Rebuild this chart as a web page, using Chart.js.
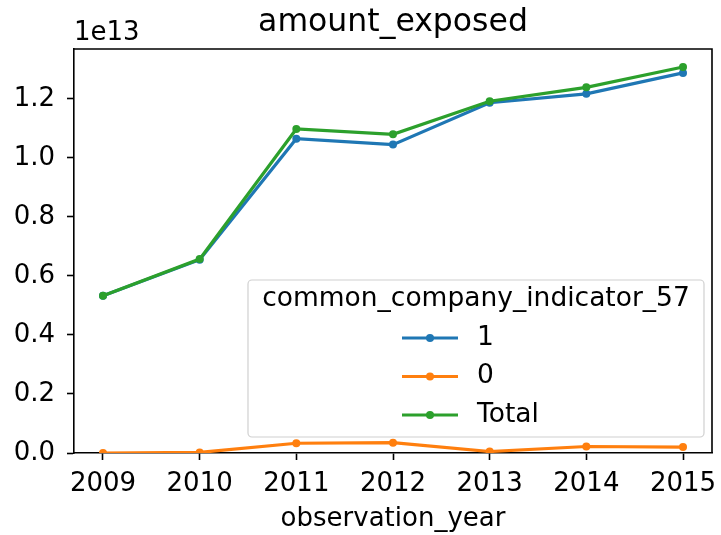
<!DOCTYPE html>
<html>
<head>
<meta charset="utf-8">
<script src="https://cdn.jsdelivr.net/npm/chart.js@4.4.1/dist/chart.umd.min.js"></script>
<style>
  body { margin: 0; background: #fff; }
</style>
</head>
<body>
<canvas id="chart" width="721" height="535"></canvas>
<script>
// values (scale 1e13)
const years = [2009, 2010, 2011, 2012, 2013, 2014, 2015];
const seriesOne = [5.33e12, 6.55e12, 10.65e12, 10.45e12, 11.87e12, 12.17e12, 12.88e12];
const seriesZero = [0.0, 0.02e12, 0.33e12, 0.35e12, 0.05e12, 0.22e12, 0.20e12];
const seriesTotal = [5.33e12, 6.57e12, 10.98e12, 10.80e12, 11.92e12, 12.39e12, 13.08e12];
const yTicks = [0, 2e12, 4e12, 6e12, 8e12, 10e12, 12e12];

const FONT = "'DejaVu Sans', sans-serif";

const pts = arr => years.map((y, i) => ({ x: y, y: arr[i] }));

function makeSet(label, data, color, order) {
  return {
    label: label,
    data: pts(data),
    borderColor: color,
    backgroundColor: color,
    borderWidth: 3.2,
    pointRadius: 4,
    pointHoverRadius: 4,
    pointBorderWidth: 0,
    tension: 0,
    order: order
  };
}

// title, 1e13 offset text, frame and the in-axes legend
const decorPlugin = {
  id: 'decor',
  afterDraw(chart) {
    const ctx = chart.ctx;
    const a = chart.chartArea;
    ctx.save();
    // top/right spines
    ctx.strokeStyle = '#000';
    ctx.lineWidth = 1.6;
    ctx.beginPath();
    ctx.moveTo(a.left, a.top);
    ctx.lineTo(a.right, a.top);
    ctx.lineTo(a.right, a.bottom);
    ctx.stroke();

    ctx.fillStyle = '#000';
    ctx.textBaseline = 'middle';
    ctx.textAlign = 'center';
    ctx.font = '31.5px ' + FONT;
    ctx.fillText('amount_exposed', (a.left + a.right) / 2, 23);
    ctx.textAlign = 'left';
    ctx.font = '26px ' + FONT;
    ctx.fillText('1e13', a.left, 33);

    // legend
    const bx = 248, by = 280, bw = 456, bh = 157;
    ctx.fillStyle = 'rgba(255,255,255,0.8)';
    ctx.strokeStyle = '#d0d0d0';
    ctx.lineWidth = 1.2;
    ctx.beginPath();
    ctx.roundRect(bx, by, bw, bh, 4);
    ctx.fill();
    ctx.stroke();

    ctx.fillStyle = '#000';
    ctx.font = '26.5px ' + FONT;
    ctx.textAlign = 'center';
    ctx.fillText('common_company_indicator_57', bx + bw / 2, by + 19);

    ctx.textAlign = 'left';
    chart.data.datasets.forEach((ds, i) => {
      const y = by + 58 + i * 38.5;
      const x0 = bx + 154;
      ctx.strokeStyle = ds.borderColor;
      ctx.lineWidth = 3.2;
      ctx.beginPath();
      ctx.moveTo(x0, y);
      ctx.lineTo(x0 + 56, y);
      ctx.stroke();
      ctx.fillStyle = ds.borderColor;
      ctx.beginPath();
      ctx.arc(x0 + 28, y, 4, 0, Math.PI * 2);
      ctx.fill();
      ctx.fillStyle = '#000';
      ctx.fillText(ds.label, x0 + 75, y);
    });
    ctx.restore();
  }
};

new Chart(document.getElementById('chart'), {
  type: 'line',
  data: {
    datasets: [
      makeSet('1', seriesOne, '#1f77b4', 3),
      makeSet('0', seriesZero, '#ff7f0e', 2),
      makeSet('Total', seriesTotal, '#2ca02c', 1)
    ]
  },
  options: {
    responsive: false,
    animation: false,
    layout: { padding: { left: 0, right: 9, top: 49, bottom: 0 } },
    plugins: {
      legend: { display: false },
      tooltip: { enabled: false },
      title: { display: false }
    },
    scales: {
      x: {
        type: 'linear',
        min: 2008.7,
        max: 2015.3,
        afterBuildTicks: s => { s.ticks = years.map(v => ({ value: v })); },
        afterFit: s => {
          s.height = 82;
          s.paddingLeft = 0;
          s.paddingRight = 0;
        },
        grid: { drawOnChartArea: false, drawTicks: true, tickLength: 7, color: '#000', tickWidth: 1.6 },
        border: { display: true, color: '#000', width: 1.6 },
        ticks: {
          color: '#000',
          font: { family: FONT, size: 26 },
          padding: 9,
          maxRotation: 0,
          callback: v => String(v)
        },
        title: {
          display: true,
          text: 'observation_year',
          color: '#000',
          font: { family: FONT, size: 26 },
          padding: { top: 0, bottom: 0 }
        }
      },
      y: {
        min: 0,
        max: 1.369e13,
        afterBuildTicks: s => { s.ticks = yTicks.map(v => ({ value: v })); },
        afterFit: s => {
          s.width = 74;
          s.paddingTop = 0;
          s.paddingBottom = 0;
        },
        grid: { drawOnChartArea: false, drawTicks: true, tickLength: 7, color: '#000', tickWidth: 1.6 },
        border: { display: true, color: '#000', width: 1.6 },
        ticks: {
          color: '#000',
          font: { family: FONT, size: 26 },
          padding: 12,
          callback: v => (v / 1e13).toFixed(1)
        }
      }
    }
  },
  plugins: [decorPlugin]
});
</script>
</body>
</html>
